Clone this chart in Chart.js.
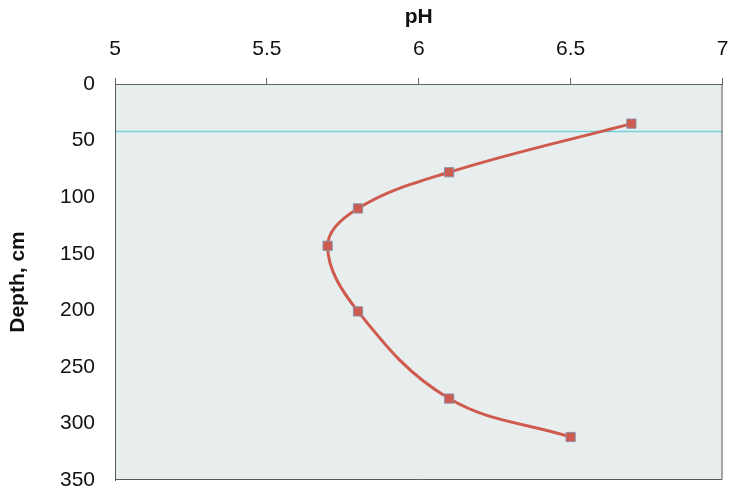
<!DOCTYPE html>
<html>
<head>
<meta charset="utf-8">
<script src="https://cdn.jsdelivr.net/npm/chart.js@4"></script>
<style>
  html, body { margin: 0; padding: 0; background: #fff; }
  #wrap { width: 730px; height: 491px; }
</style>
</head>
<body>
<div id="wrap"><canvas id="myChart" width="730" height="491"></canvas></div>
<script>
// pH readings down the soil profile
const phValues = [6.7, 6.1, 5.8, 5.7, 5.8, 6.1, 6.5];
const depths = [35, 78, 110, 143, 201, 278, 312];
// thin cyan reference line across the plot
const refDepth = 42;
const phRange = [5, 7];

const ctx = document.getElementById('myChart').getContext('2d');

// fill the plot area and draw its frame
const plotBackground = {
  id: 'plotBackground',
  beforeDraw(chart) {
    const a = chart.chartArea;
    const c = chart.ctx;
    c.save();
    c.fillStyle = '#e8eded';
    c.fillRect(a.left, a.top, a.right - a.left, a.bottom - a.top);
    c.restore();
  },
  afterDraw(chart) {
    const a = chart.chartArea;
    const c = chart.ctx;
    c.save();
    c.strokeStyle = '#5a5a5a';
    c.lineWidth = 1;
    c.beginPath();
    c.moveTo(a.left + 0.5, a.top);
    c.lineTo(a.left + 0.5, a.bottom - 0.5);
    c.lineTo(a.right - 0.5, a.bottom - 0.5);
    c.lineTo(a.right - 0.5, a.top);
    c.stroke();
    c.restore();
  }
};

const points = phValues.map((v, i) => ({ x: v, y: depths[i] }));

new Chart(ctx, {
  type: 'scatter',
  data: {
    datasets: [
      {
        data: phRange.map(v => ({ x: v, y: refDepth })),
        showLine: true,
        borderColor: '#74d2dc',
        borderWidth: 1.3,
        pointRadius: 0,
        order: 2
      },
      {
        data: points,
        showLine: true,
        tension: 0.38,
        borderColor: '#cf5a4e',
        borderWidth: 3,
        pointStyle: 'rect',
        pointRadius: 6.5,
        pointBackgroundColor: '#cd5b50',
        pointBorderColor: '#8c90a8',
        pointBorderWidth: 1,
        order: 1
      }
    ]
  },
  options: {
    responsive: false,
    animation: false,
    layout: { padding: { left: 0, top: 0, right: 7, bottom: 11 } },
    plugins: { legend: { display: false }, tooltip: { enabled: false } },
    scales: {
      x: {
        type: 'linear',
        position: 'top',
        min: 5,
        max: 7,
        ticks: {
          stepSize: 0.5,
          color: '#111',
          padding: 16,
          font: { family: 'Liberation Sans, Arial', size: 21 },
          callback: v => String(v)
        },
        grid: { drawOnChartArea: false, drawTicks: true, tickLength: 6, color: '#666' },
        border: { color: '#666' },
        title: {
          display: true,
          text: 'pH',
          color: '#111',
          padding: { top: 5, bottom: 0 },
          font: { family: 'Liberation Sans, Arial', size: 21, weight: 'bold' }
        },
        afterFit(scale) {
          scale.height = 84;
          scale.paddingLeft = 0;
          scale.paddingRight = 0;
        }
      },
      y: {
        type: 'linear',
        reverse: true,
        min: 0,
        max: 350,
        ticks: {
          stepSize: 50,
          color: '#111',
          padding: 20,
          font: { family: 'Liberation Sans, Arial', size: 21 }
        },
        grid: { drawOnChartArea: false, drawTicks: false },
        border: { color: '#5a5a5a' },
        title: {
          display: true,
          text: 'Depth, cm',
          color: '#111',
          padding: { top: 6, bottom: 0 },
          font: { family: 'Liberation Sans, Arial', size: 21, weight: 'bold' }
        },
        afterFit(scale) {
          scale.width = 115;
          scale.paddingTop = 0;
          scale.paddingBottom = 0;
        }
      }
    }
  },
  plugins: [plotBackground]
});
</script>
</body>
</html>
